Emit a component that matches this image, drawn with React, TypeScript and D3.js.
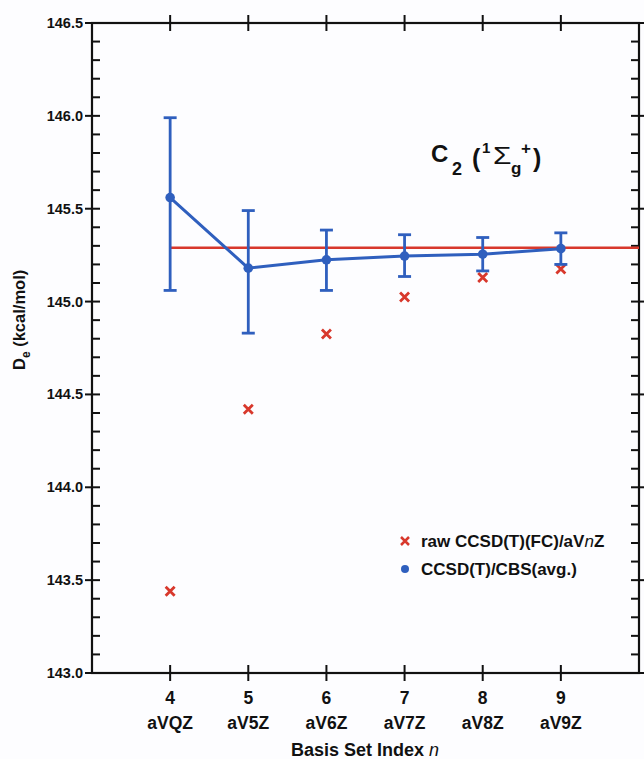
import { useRef, useEffect } from 'react';
import * as d3 from 'd3';

// basis set index n and its label
const basisN = [4, 5, 6, 7, 8, 9];
const basisNames = ['aVQZ', 'aV5Z', 'aV6Z', 'aV7Z', 'aV8Z', 'aV9Z'];

// raw CCSD(T)(FC)/aVnZ values
const rawDe = [143.44, 144.42, 144.825, 145.025, 145.13, 145.175];

// CCSD(T)/CBS(avg.) with error bar ends
const cbsDe = [145.56, 145.18, 145.225, 145.245, 145.255, 145.285];
const cbsHigh = [145.99, 145.49, 145.385, 145.36, 145.345, 145.37];
const cbsLow = [145.06, 144.83, 145.06, 145.135, 145.165, 145.2];

// reference value
const refDe = 145.29;

const yMajor = [143.0, 143.5, 144.0, 144.5, 145.0, 145.5, 146.0, 146.5];

const W = 644;
const H = 759;
const BLUE = '#2f5fbe';
const RED = '#d8382c';
const INK = '#111';
const FONT = '"Liberation Sans", Arial, Helvetica, sans-serif';

function Chart() {
  const ref = useRef<SVGSVGElement>(null);

  useEffect(() => {
    const svg = d3.select(ref.current);
    svg.selectAll('*').remove();

    const margin = { top: 23, right: 5, bottom: 86, left: 92 };
    const x = d3.scaleLinear().domain([3, 10]).range([margin.left, W - margin.right]);
    const y = d3.scaleLinear().domain([143, 146.5]).range([H - margin.bottom, margin.top]);

    const yMinor = d3.range(143, 146.5001, 0.1).map(v => +v.toFixed(1));
    const isMajor = (v: number) => Math.abs(v * 2 - Math.round(v * 2)) < 1e-6;

    const x0 = x(3), x1 = x(10), y0 = y(143), y1 = y(146.5);

    // frame
    svg.append('rect')
      .attr('x', x0).attr('y', y1)
      .attr('width', x1 - x0).attr('height', y0 - y1)
      .attr('fill', 'none').attr('stroke', INK).attr('stroke-width', 2.2);

    const ticks = svg.append('g').attr('stroke', INK).attr('stroke-width', 2);

    // y ticks left/right: majors cross the axis, minors point inward
    ticks.selectAll('line.yl')
      .data(yMinor)
      .join('line')
      .attr('class', 'yl')
      .attr('x1', d => isMajor(d) ? x0 - 7 : x0)
      .attr('x2', x0 + 8)
      .attr('y1', d => y(d))
      .attr('y2', d => y(d));
    ticks.selectAll('line.yr')
      .data(yMinor)
      .join('line')
      .attr('class', 'yr')
      .attr('x1', x1 - 8)
      .attr('x2', d => isMajor(d) ? x1 + 7 : x1)
      .attr('y1', d => y(d))
      .attr('y2', d => y(d));

    // x ticks top and bottom, crossing
    ticks.selectAll('line.xb')
      .data(basisN)
      .join('line')
      .attr('class', 'xb')
      .attr('x1', d => x(d)).attr('x2', d => x(d))
      .attr('y1', y0 - 8).attr('y2', y0 + 8);
    ticks.selectAll('line.xt')
      .data(basisN)
      .join('line')
      .attr('class', 'xt')
      .attr('x1', d => x(d)).attr('x2', d => x(d))
      .attr('y1', y1 - 8).attr('y2', y1 + 8);

    // y tick labels
    svg.append('g')
      .style('font-family', FONT)
      .style('font-weight', 'bold')
      .style('font-size', '14.5px')
      .attr('fill', INK)
      .attr('text-anchor', 'end')
      .selectAll('text')
      .data(yMajor)
      .join('text')
      .attr('x', x0 - 9)
      .attr('y', d => y(d) + 5)
      .text(d => d3.format('.1f')(d));

    // x labels (two lines)
    const xl = svg.append('g')
      .style('font-family', FONT)
      .style('font-weight', 'bold')
      .style('font-size', '17.5px')
      .attr('fill', INK)
      .attr('text-anchor', 'middle');
    xl.selectAll('text.num')
      .data(basisN)
      .join('text')
      .attr('class', 'num')
      .attr('x', d => x(d))
      .attr('y', 704)
      .text(d => d);
    xl.selectAll('text.name')
      .data(basisNames)
      .join('text')
      .attr('class', 'name')
      .attr('x', (d, i) => x(basisN[i]))
      .attr('y', 729)
      .text(d => d);

    const xt = xl.append('text').attr('x', 365).attr('y', 756).style('font-size', '18px');
    xt.append('tspan').text('Basis Set Index ');
    xt.append('tspan').style('font-style', 'italic').style('font-weight', 'normal').text('n');

    // y label
    const yt = svg.append('text')
      .attr('transform', 'translate(25,370) rotate(-90)')
      .attr('text-anchor', 'start')
      .style('font-family', FONT)
      .style('font-weight', 'bold')
      .style('font-size', '16.5px')
      .attr('fill', INK);
    yt.append('tspan').text('D');
    yt.append('tspan').attr('dy', 5).style('font-size', '12px').text('e');
    yt.append('tspan').attr('dy', -5).text(' (kcal/mol)');

    // reference line
    svg.append('line')
      .attr('x1', x(basisN[0]))
      .attr('x2', x1)
      .attr('y1', y(refDe))
      .attr('y2', y(refDe))
      .attr('stroke', RED)
      .attr('stroke-width', 2.5);

    // raw points as crosses
    const s = 4.5;
    svg.append('g').attr('stroke', RED).attr('stroke-width', 2.8)
      .selectAll('path')
      .data(rawDe)
      .join('path')
      .attr('d', (d, i) => {
        const cx = x(basisN[i]);
        const cy = y(d);
        return `M${cx - s},${cy - s}L${cx + s},${cy + s}M${cx - s},${cy + s}L${cx + s},${cy - s}`;
      });

    // CBS error bars
    const eb = svg.append('g').attr('stroke', BLUE).attr('stroke-width', 2.8).attr('fill', 'none');
    const cap = 6.5;
    basisN.forEach((n, i) => {
      const cx = x(n);
      eb.append('line').attr('x1', cx).attr('x2', cx).attr('y1', y(cbsLow[i])).attr('y2', y(cbsHigh[i]));
      eb.append('line').attr('x1', cx - cap).attr('x2', cx + cap).attr('y1', y(cbsLow[i])).attr('y2', y(cbsLow[i]));
      eb.append('line').attr('x1', cx - cap).attr('x2', cx + cap).attr('y1', y(cbsHigh[i])).attr('y2', y(cbsHigh[i]));
    });

    const line = d3.line<number>()
      .x((d, i) => x(basisN[i]))
      .y(d => y(d));
    svg.append('path')
      .datum(cbsDe)
      .attr('d', line)
      .attr('fill', 'none')
      .attr('stroke', BLUE)
      .attr('stroke-width', 3);

    svg.append('g')
      .selectAll('circle')
      .data(cbsDe)
      .join('circle')
      .attr('cx', (d, i) => x(basisN[i]))
      .attr('cy', d => y(d))
      .attr('r', 4.8)
      .attr('fill', BLUE);

    // title  C2 (1Σg+)
    const tg = svg.append('g')
      .style('font-family', FONT)
      .style('font-weight', 'bold')
      .attr('fill', INK);
    const title = tg.append('text');
    title.append('tspan').attr('x', 431).attr('y', 162).style('font-size', '24px').text('C');
    title.append('tspan').attr('x', 452).attr('y', 175).style('font-size', '18px').text('2');
    title.append('tspan').attr('x', 472).attr('y', 167).style('font-size', '25px').text('(');
    title.append('tspan').attr('x', 482).attr('y', 153).style('font-size', '15px').text('1');
    title.append('tspan').attr('x', 511).attr('y', 174).style('font-size', '17px').text('g');
    title.append('tspan').attr('x', 521).attr('y', 154).style('font-size', '17px').text('+');
    title.append('tspan').attr('x', 533).attr('y', 167).style('font-size', '25px').text(')');
    // wide sigma, like the Symbol font one
    tg.append('text')
      .attr('transform', 'translate(493,164) scale(1.3,1)')
      .style('font-size', '23px')
      .style('font-weight', 'normal')
      .text('Σ');

    // legend
    const lg = svg.append('g')
      .style('font-family', FONT)
      .style('font-weight', 'bold')
      .style('font-size', '17px')
      .attr('fill', INK);
    const lx = 405;
    const ly1 = 541;
    const ly2 = 569;
    lg.append('path')
      .attr('d', `M${lx - 4},${ly1 - 4}L${lx + 4},${ly1 + 4}M${lx - 4},${ly1 + 4}L${lx + 4},${ly1 - 4}`)
      .attr('stroke', RED)
      .attr('stroke-width', 2.5);
    const t1 = lg.append('text').attr('x', 421).attr('y', ly1 + 6);
    t1.append('tspan').text('raw CCSD(T)(FC)/aV');
    t1.append('tspan').style('font-style', 'italic').style('font-weight', 'normal').text('n');
    t1.append('tspan').text('Z');
    lg.append('circle').attr('cx', lx).attr('cy', ly2).attr('r', 4).attr('fill', BLUE);
    lg.append('text').attr('x', 421).attr('y', ly2 + 6).text('CCSD(T)/CBS(avg.)');
  }, []);

  return (
    <svg ref={ref} width={W} height={H} style={{ position: 'absolute', left: 0, top: 0, background: '#fdfdff' }}></svg>
  );
}

export default function App() {
  return <Chart />;
}
